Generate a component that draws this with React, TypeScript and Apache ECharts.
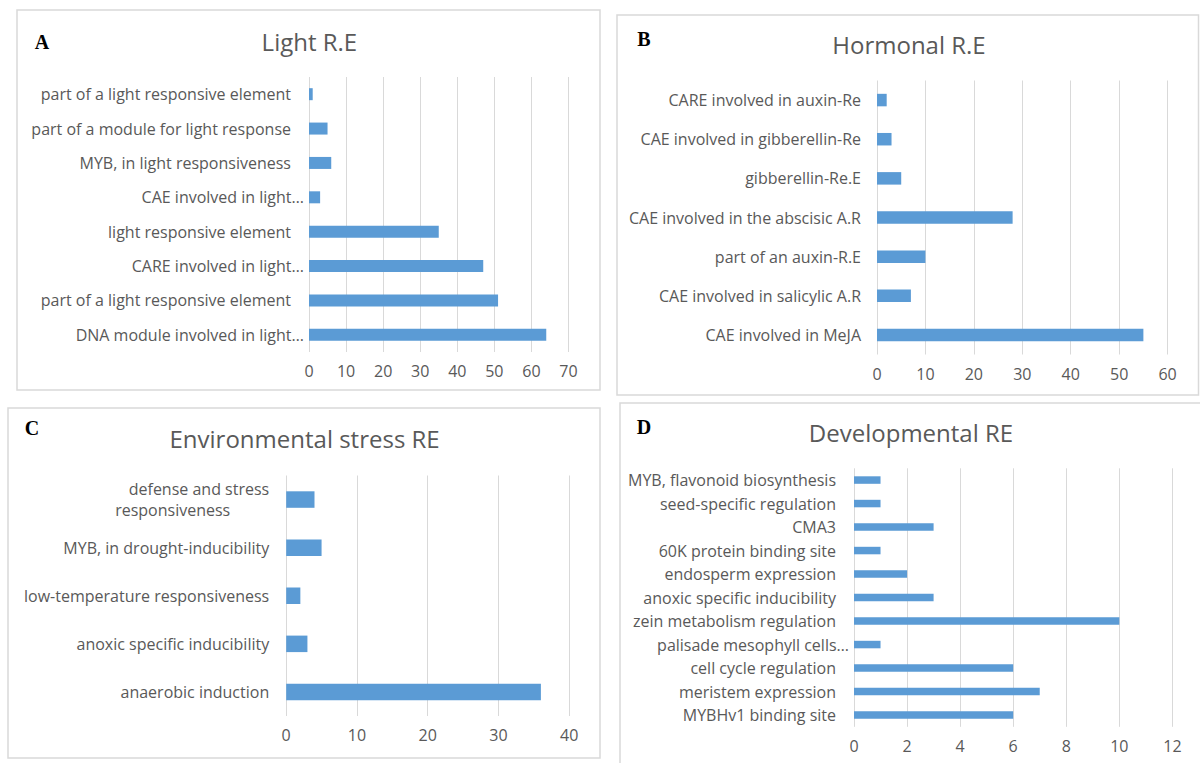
import React, { useEffect, useRef } from "react";
import * as echarts from "echarts";

// Panel A – Light R.E (bottom to top)
const lightCategories = [
  "DNA module involved in light…",
  "part of a light responsive element",
  "CARE involved in light…",
  "light responsive element",
  "CAE involved in light…",
  "MYB, in light responsiveness",
  "part of a module for light response",
  "part of a light responsive element",
];
const lightValues = [64, 51, 47, 35, 3, 6, 5, 1];

// Panel B – Hormonal R.E (bottom to top)
const hormonalCategories = [
  "CAE involved in MeJA",
  "CAE involved in salicylic A.R",
  "part of an auxin-R.E",
  "CAE involved in the abscisic A.R",
  "gibberellin-Re.E",
  "CAE involved in gibberellin-Re",
  "CARE involved in auxin-Re",
];
const hormonalValues = [55, 7, 10, 28, 5, 3, 2];

// Panel C – Environmental stress RE (bottom to top)
const stressCategories = [
  "anaerobic induction",
  "anoxic specific inducibility",
  "low-temperature responsiveness",
  "MYB, in drought-inducibility",
  "defense and stress responsiveness",
];
const stressValues = [36, 3, 2, 5, 4];

// Panel D – Developmental RE (bottom to top)
const devCategories = [
  "MYBHv1 binding site",
  "meristem expression",
  "cell cycle regulation",
  "palisade mesophyll cells…",
  "zein metabolism regulation",
  "anoxic specific inducibility",
  "endosperm expression",
  "60K protein binding site",
  "CMA3",
  "seed-specific regulation",
  "MYB, flavonoid biosynthesis",
];
const devValues = [6, 7, 6, 1, 10, 3, 2, 1, 3, 1, 1];

const titles = ["Light R.E", "Hormonal R.E", "Environmental stress RE", "Developmental RE"];
const letters = ["A", "B", "C", "D"];
const xMax = [70, 60, 40, 12];
const xInterval = [10, 10, 10, 2];

const FONT = "'Open Sans', 'Noto Sans', sans-serif";
const TEXT = "#595959";
const BAR = "#5b9bd5";
const GRID = "#d9d9d9";
const LABEL_SIZE = 16;

export default function App() {
  const ref = useRef<HTMLDivElement>(null);

  useEffect(() => {
    if (!ref.current) return;
    const chart = echarts.init(ref.current, null, { renderer: "svg" });

    const grids = [
      { left: 309, top: 77, width: 259.5, height: 275 },
      { left: 877, top: 80.5, width: 290.6, height: 274 },
      { left: 286.2, top: 475.5, width: 283, height: 240.5 },
      { left: 854, top: 468.3, width: 318.4, height: 258.5 },
    ];
    const cats = [lightCategories, hormonalCategories, stressCategories, devCategories];
    const vals = [lightValues, hormonalValues, stressValues, devValues];
    const barWidths = [12, 12.5, 16.5, 7.5];
    const labelMargins = [5, 16, 17, 5];

    const richBase = { fontFamily: FONT, fontSize: LABEL_SIZE, color: TEXT };

    const makeFormatter = (i: number) => (v: string) => {
      if (i === 2 && v === "defense and stress responsiveness") {
        return "{n|defense and stress}\n{w|responsiveness}";
      }
      if (i === 0 || i === 3) {
        if (v.endsWith("…")) return "{e|" + v + "}";
        return "{p|" + v + "}";
      }
      return v;
    };

    const option: any = {
      animation: false,
      backgroundColor: "#ffffff",
      grid: grids.map((g) => ({ ...g, containLabel: false })),
      xAxis: grids.map((_, i) => ({
        type: "value",
        gridIndex: i,
        min: 0,
        max: xMax[i],
        interval: xInterval[i],
        axisLine: { show: false },
        axisTick: { show: false },
        splitLine: { show: true, lineStyle: { color: GRID, width: 1 } },
        axisLabel: { color: TEXT, fontFamily: FONT, fontSize: 16, margin: 11 },
      })),
      yAxis: grids.map((_, i) => ({
        type: "category",
        gridIndex: i,
        data: cats[i],
        axisLine: { show: false },
        axisTick: { show: false },
        axisLabel: {
          interval: 0,
          color: TEXT,
          fontFamily: FONT,
          fontSize: LABEL_SIZE,
          margin: labelMargins[i],
          formatter: makeFormatter(i),
          rich: {
            p: { ...richBase, padding: [0, 13, 0, 0] },
            e: { ...richBase },
            n: { ...richBase, lineHeight: 21 },
            w: { ...richBase, lineHeight: 21, padding: [0, 39, 0, 0] },
          },
        },
      })),
      series: grids.map((_, i) => ({
        type: "bar",
        xAxisIndex: i,
        yAxisIndex: i,
        data: vals[i],
        barWidth: barWidths[i],
        itemStyle: { color: BAR },
      })),
      graphic: [
        // panel borders
        { type: "rect", shape: { x: 17, y: 10, width: 583, height: 380 }, style: { fill: "transparent", stroke: GRID, lineWidth: 1.5 }, silent: true },
        { type: "rect", shape: { x: 617, y: 15, width: 581.5, height: 380 }, style: { fill: "transparent", stroke: GRID, lineWidth: 1.5 }, silent: true },
        { type: "rect", shape: { x: 8, y: 408, width: 592, height: 350 }, style: { fill: "transparent", stroke: GRID, lineWidth: 1.5 }, silent: true },
        { type: "rect", shape: { x: 620, y: 403, width: 600, height: 380 }, style: { fill: "transparent", stroke: GRID, lineWidth: 1.5 }, silent: true },
        // titles
        ...[
          [309.4, 41.5],
          [909, 44],
          [304.6, 438.3],
          [911, 432.3],
        ].map(([x, y], i) => ({
          type: "text",
          x,
          y,
          style: {
            text: titles[i],
            font: `24px ${FONT}`,
            fill: TEXT,
            align: "center",
            verticalAlign: "middle",
          },
        })),
        // panel letters
        ...[
          [42, 41.7],
          [644, 39.3],
          [32, 428.3],
          [644, 426.7],
        ].map(([x, y], i) => ({
          type: "text",
          x,
          y,
          style: {
            text: letters[i],
            font: `bold 20px 'Liberation Serif', 'Times New Roman', serif`,
            fill: "#000000",
            align: "center",
            verticalAlign: "middle",
          },
        })),
      ],
    };

    chart.setOption(option);
    return () => chart.dispose();
  }, []);

  return (
    <div
      ref={ref}
      style={{ position: "absolute", left: 0, top: 0, width: 1200, height: 763, background: "#fff" }}
    />
  );
}
